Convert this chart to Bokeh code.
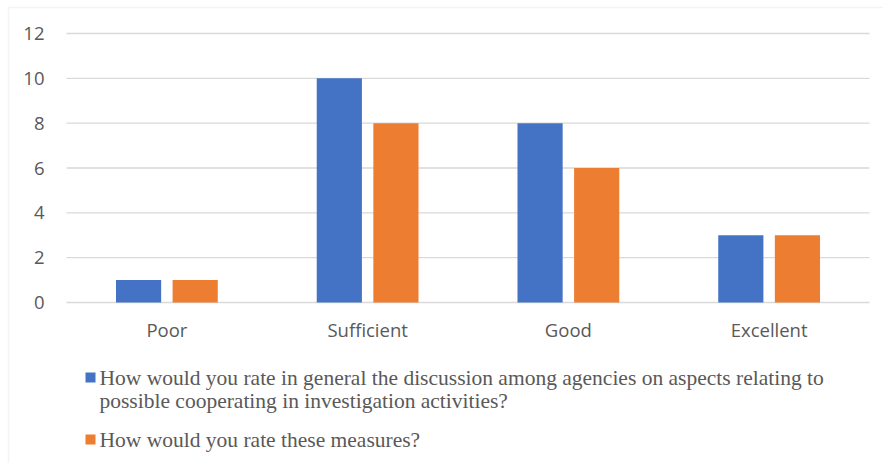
import numpy as np
from bokeh.plotting import figure
from bokeh.models import Range1d, FixedTicker, Label, BoxAnnotation
from bokeh.embed import file_html
from bokeh.resources import INLINE

categories = ["Poor", "Sufficient", "Good", "Excellent"]
discussion = [1, 10, 8, 3]
measures = [1, 8, 6, 3]
y_ticks = [0, 2, 4, 6, 8, 10, 12]
series_lines = [
    ["How would you rate in general the discussion among agencies on aspects relating to",
     "possible cooperating in investigation activities?"],
    ["How would you rate these measures?"],
]

BLUE = "#4472C4"
ORANGE = "#ED7D31"
GREY_TEXT = "#595959"
GRID = "#D9D9D9"

# canvas geometry (pixels)
W, H = 883, 463
FRAME_L, FRAME_T = 6, 5          # frame covers almost the whole canvas
PLOT_L, PLOT_R = 66, 869         # where the category band 0..4 sits
PLOT_T, PLOT_B = 33, 302         # where the value band 0..12 sits
Y_MAX = 12

n = len(categories)
px_x = (PLOT_R - PLOT_L) / n
px_y = (PLOT_B - PLOT_T) / Y_MAX

p = figure(
    width=W, height=H,
    x_range=Range1d(-(PLOT_L - FRAME_L) / px_x, (W - PLOT_L) / px_x),
    y_range=Range1d(-(H - PLOT_B) / px_y, Y_MAX + (PLOT_T - FRAME_T) / px_y),
    output_backend="svg", toolbar_location=None,
    min_border_left=FRAME_L, min_border_right=0,
    min_border_top=FRAME_T, min_border_bottom=0,
)
p.outline_line_color = None
p.background_fill_color = "white"
p.border_fill_color = "white"
p.grid.visible = False

# horizontal gridlines across the category band
p.segment(x0=0, x1=n, y0=y_ticks, y1=y_ticks, line_color=GRID, line_width=1.3)

# grouped bars
centers = np.arange(n) + 0.5
bar_w, shift = 0.225, 0.141
p.vbar(x=centers - shift, top=discussion, width=bar_w, fill_color=BLUE, line_color=None)
p.vbar(x=centers + shift, top=measures, width=bar_w, fill_color=ORANGE, line_color=None)

# axes pinned to the data origin
p.yaxis.fixed_location = 0
p.yaxis.ticker = FixedTicker(ticks=y_ticks)
p.yaxis.axis_line_color = None
p.yaxis.major_tick_line_color = None
p.yaxis.minor_tick_line_color = None
p.yaxis.major_label_standoff = 16
p.yaxis.major_label_text_font = "Open Sans"
p.yaxis.major_label_text_font_size = "18.5px"
p.yaxis.major_label_text_color = GREY_TEXT

p.xaxis.fixed_location = 0
p.xaxis.ticker = FixedTicker(ticks=list(centers))
p.xaxis.major_label_overrides = {float(c): lab for c, lab in zip(centers, categories)}
p.xaxis.axis_line_color = None
p.xaxis.major_tick_line_color = None
p.xaxis.minor_tick_line_color = None
p.xaxis.major_label_standoff = 8
p.xaxis.major_label_text_font = "Open Sans"
p.xaxis.major_label_text_font_size = "18.5px"
p.xaxis.major_label_text_color = GREY_TEXT

# chart-area border
p.add_layout(BoxAnnotation(left=8, right=W + 20, top=7, bottom=H + 20,
                           left_units="canvas", right_units="canvas",
                           top_units="canvas", bottom_units="canvas",
                           fill_color=None, line_color=GRID, line_width=1.5))

# legend (canvas pixels, y measured from the top)
legend_rows = [(BLUE, 372, [377, 400]), (ORANGE, 434, [439])]
for (color, sq_top, baselines), lines in zip(legend_rows, series_lines):
    p.add_layout(BoxAnnotation(left=85, right=95, top=sq_top, bottom=sq_top + 10,
                               left_units="canvas", right_units="canvas",
                               top_units="canvas", bottom_units="canvas",
                               fill_color=color, fill_alpha=1, line_color=None))
    for txt, baseline in zip(lines, baselines):
        p.add_layout(Label(x=99, y=baseline, x_units="canvas", y_units="canvas",
                           text=txt, text_font="Liberation Serif",
                           text_font_size="21.5px", text_color=GREY_TEXT,
                           text_baseline="alphabetic", text_align="left"))

open("out.html", "w").write(file_html(p, INLINE))
